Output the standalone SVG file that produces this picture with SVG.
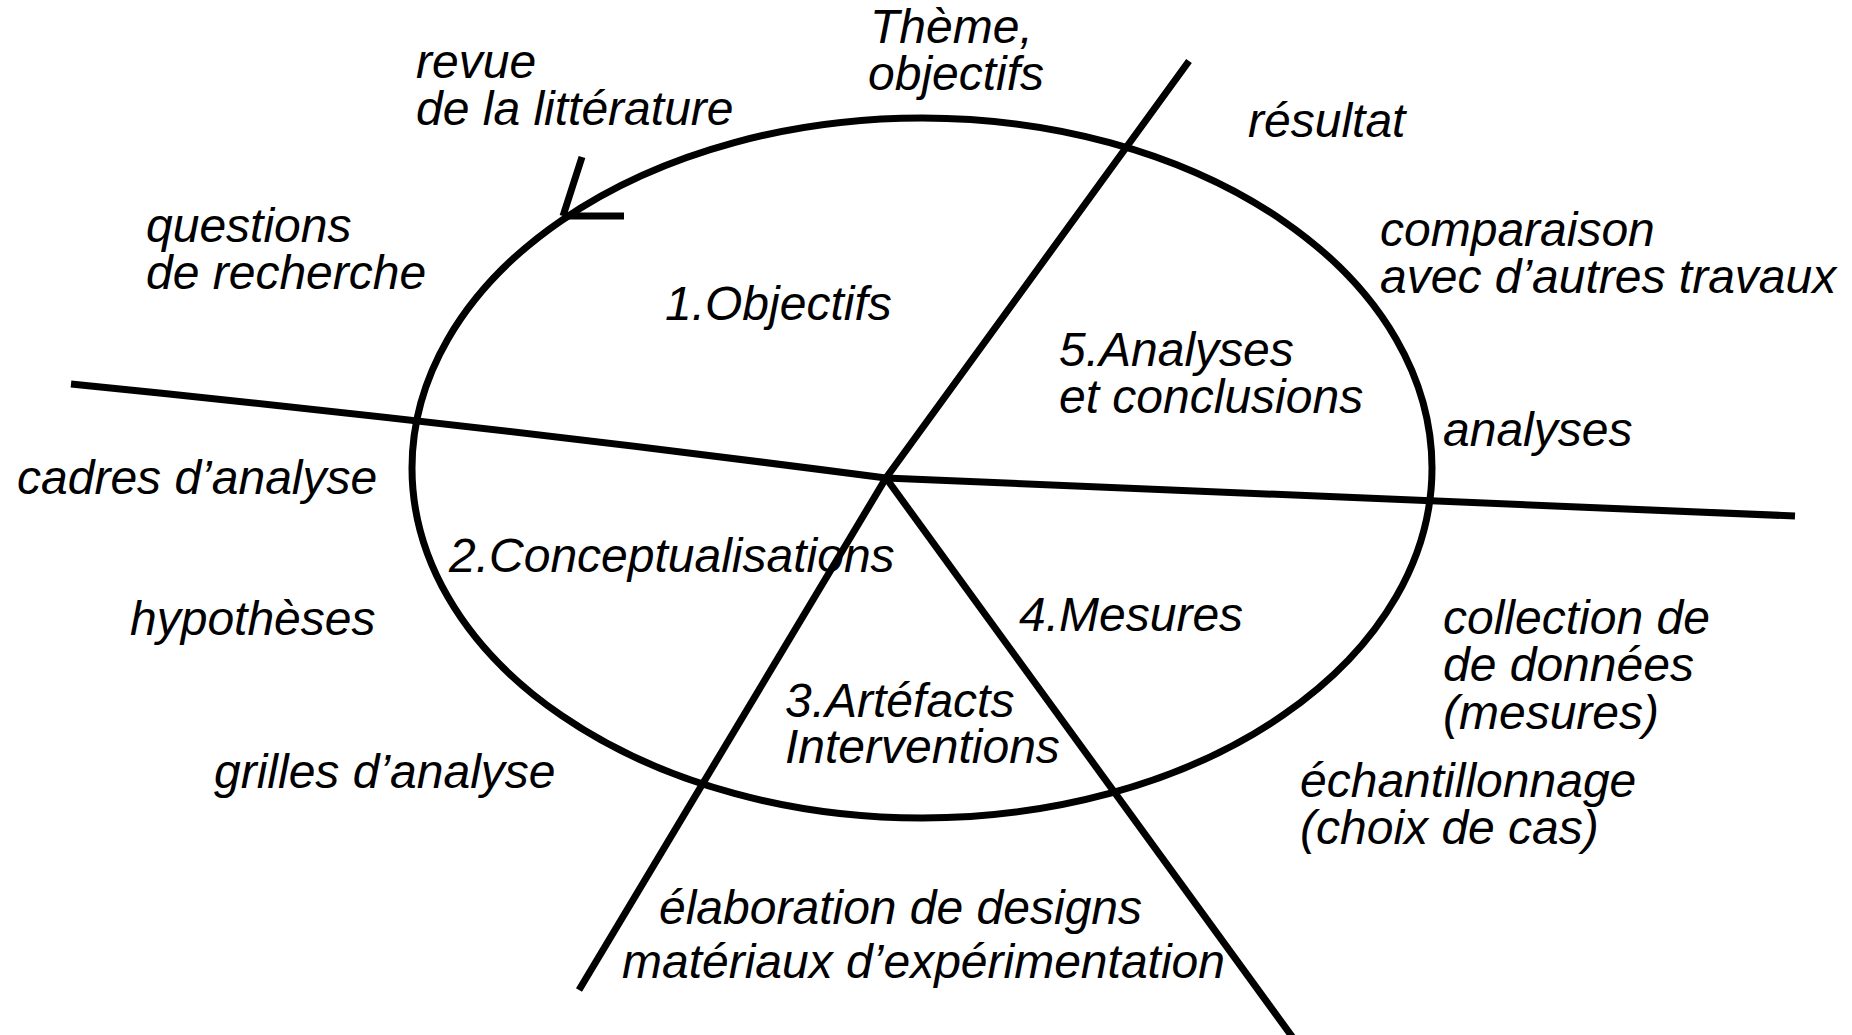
<svg xmlns="http://www.w3.org/2000/svg" width="1852" height="1035" viewBox="0 0 1852 1035">
<style>
text{font-family:"Liberation Sans",Arial,sans-serif;font-style:italic;font-size:48px;fill:#000}
.ln{fill:none;stroke:#000;stroke-width:7;stroke-linecap:butt;stroke-linejoin:miter}
</style>
<rect width="1852" height="1035" fill="#fff"/>
<g id="connectors">
<ellipse id="cycle" class="ln" cx="922" cy="468" rx="510" ry="350" stroke-width="7.5"/>
<path class="ln" d="M563,216 L582,157 M563,216 L624,216"/>
<path class="ln" d="M71,384 Q480,425 886,478 L1795,516"/>
<path class="ln" d="M1189,61 L886,478 L579,990"/>
<path class="ln" d="M886,478 L1296,1042"/>
</g>
<g id="sector1"><text x="665" y="320">1.Objectifs</text></g>
<g id="sector2"><text x="449" y="572">2.Conceptualisations</text></g>
<g id="sector3"><text x="785" y="717">3.Artéfacts</text><text x="785" y="763">Interventions</text></g>
<g id="sector4"><text x="1019" y="631">4.Mesures</text></g>
<g id="sector5"><text x="1059" y="366">5.Analyses</text><text x="1059" y="413">et conclusions</text></g>
<g id="labels">
<text x="870" y="43">Thème,</text><text x="868" y="90">objectifs</text>
<text x="416" y="78">revue</text><text x="416" y="125">de la littérature</text>
<text x="1248" y="137">résultat</text>
<text x="146" y="242">questions</text><text x="146" y="289">de recherche</text>
<text x="1380" y="246">comparaison</text><text x="1380" y="293">avec d’autres travaux</text>
<text x="1443" y="446">analyses</text>
<text x="17" y="494">cadres d’analyse</text>
<text x="130" y="635">hypothèses</text>
<text x="1443" y="634">collection de</text><text x="1443" y="681">de données</text><text x="1443" y="729">(mesures)</text>
<text x="214" y="788">grilles d’analyse</text>
<text x="1300" y="797">échantillonnage</text><text x="1300" y="844">(choix de cas)</text>
<text x="659" y="924">élaboration de designs</text><text x="622" y="978">matériaux d’expérimentation</text>
</g>
</svg>
